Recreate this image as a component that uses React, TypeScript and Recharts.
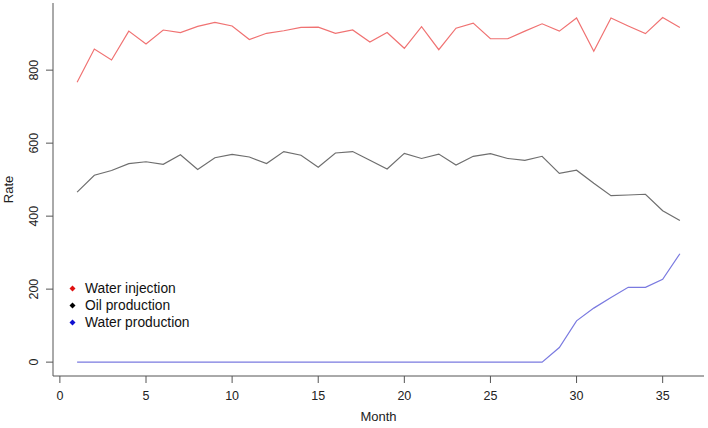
import React from "react";
import { LineChart, Line, XAxis, YAxis, Label } from "recharts";

const months = [
  1, 2, 3, 4, 5, 6, 7, 8, 9, 10, 11, 12, 13, 14, 15, 16, 17, 18, 19, 20, 21,
  22, 23, 24, 25, 26, 27, 28, 29, 30, 31, 32, 33, 34, 35, 36,
];
const waterInjection = [
  767, 858, 828, 907, 872, 910, 903, 920, 931, 921, 884, 901, 908, 917, 918,
  901, 910, 877, 903, 860, 919, 856, 915, 929, 886, 886, 907, 927, 907, 943,
  852, 943, 921, 900, 944, 917,
];
const oilProduction = [
  466, 512, 525, 544, 549, 542, 568, 528, 560, 569, 562, 544, 577, 567, 534,
  573, 577, 553, 529, 572, 558, 570, 540, 564, 571, 558, 553, 564, 517, 526,
  490, 456, 458, 460, 415, 388,
];
const waterProduction = [
  0, 0, 0, 0, 0, 0, 0, 0, 0, 0, 0, 0, 0, 0, 0, 0, 0, 0, 0, 0, 0, 0, 0, 0, 0,
  0, 0, 0, 40, 113, 148, 177, 205, 205, 227, 297,
];
const xTicks = [0, 5, 10, 15, 20, 25, 30, 35];
const yTicks = [0, 200, 400, 600, 800];
const seriesNames = ["Water injection", "Oil production", "Water production"];

const data = months.map((m, i) => ({
  month: m,
  inj: waterInjection[i],
  oil: oilProduction[i],
  wprod: waterProduction[i],
}));

const W = 708;
const H = 428;
const M_TOP = 3;
const M_RIGHT = 4;
const Y_W = 53;
const X_H = 52;
const PLOT_BOTTOM = H - X_H;
const FONT = "'Liberation Sans', Arial, Helvetica, sans-serif";
const AXIS_COLOR = "#555555";
const X_DOMAIN: [number, number] = [-0.4, 37.4];
const Y_DOMAIN: [number, number] = [-38, 984];

const YTick = (props: any) => {
  const { y, payload } = props;
  const bx = Y_W - 15;
  return (
    <text
      x={bx}
      y={y}
      transform={`rotate(-90 ${bx} ${y})`}
      textAnchor="middle"
      fontSize={12.5}
      fontFamily={FONT}
      fill="#222"
    >
      {payload.value}
    </text>
  );
};

const XTick = (props: any) => {
  const { x, payload } = props;
  return (
    <text
      x={x}
      y={PLOT_BOTTOM + 24}
      textAnchor="middle"
      fontSize={12.5}
      fontFamily={FONT}
      fill="#222"
    >
      {payload.value}
    </text>
  );
};

const legendColors = ["#e01010", "#000000", "#1010d0"];

const LegendBox = () => (
  <div
    style={{
      position: "absolute",
      left: 66,
      top: 280,
      fontFamily: FONT,
      fontSize: 13.8,
      color: "#111",
    }}
  >
    {seriesNames.map((n, i) => (
      <div
        key={n}
        style={{ display: "flex", alignItems: "center", height: 17, lineHeight: "17px", whiteSpace: "nowrap" }}
      >
        <svg width={13} height={17} style={{ flex: "none" }}>
          <polygon points="6.5,5.5 9.5,8.5 6.5,11.5 3.5,8.5" fill={legendColors[i]} />
        </svg>
        <span style={{ marginLeft: 6 }}>{n}</span>
      </div>
    ))}
  </div>
);

export default function App() {
  return (
    <div style={{ position: "absolute", left: 0, top: 0, width: W, height: H, background: "#fff" }}>
      <LineChart
        width={W}
        height={H}
        data={data}
        margin={{ top: M_TOP, right: M_RIGHT, left: 0, bottom: 0 }}
      >
        <XAxis
          dataKey="month"
          type="number"
          domain={X_DOMAIN}
          ticks={xTicks}
          allowDataOverflow
          height={X_H}
          tickSize={7}
          axisLine={{ stroke: AXIS_COLOR }}
          tickLine={{ stroke: AXIS_COLOR }}
          tick={<XTick />}
        >
          <Label
            content={() => (
              <text
                x={(Y_W + W - M_RIGHT) / 2}
                y={H - 7}
                textAnchor="middle"
                fontSize={13}
                fontFamily={FONT}
                fill="#222"
              >
                Month
              </text>
            )}
          />
        </XAxis>
        <XAxis
          xAxisId="top"
          orientation="top"
          dataKey="month"
          type="number"
          domain={X_DOMAIN}
          allowDataOverflow
          height={0}
          tick={false}
          tickLine={false}
          axisLine={{ stroke: AXIS_COLOR }}
        />
        <YAxis
          type="number"
          domain={Y_DOMAIN}
          ticks={yTicks}
          allowDataOverflow
          width={Y_W}
          tickSize={7}
          axisLine={{ stroke: AXIS_COLOR }}
          tickLine={{ stroke: AXIS_COLOR }}
          tick={<YTick />}
        >
          <Label
            content={() => {
              const cx = 13;
              const cy = (M_TOP + PLOT_BOTTOM) / 2;
              return (
                <text
                  x={cx}
                  y={cy}
                  transform={`rotate(-90 ${cx} ${cy})`}
                  textAnchor="middle"
                  fontSize={13}
                  fontFamily={FONT}
                  fill="#222"
                >
                  Rate
                </text>
              );
            }}
          />
        </YAxis>
        <YAxis
          yAxisId="right"
          orientation="right"
          type="number"
          domain={Y_DOMAIN}
          allowDataOverflow
          width={0}
          tick={false}
          tickLine={false}
          axisLine={{ stroke: AXIS_COLOR }}
        />
        <Line
          type="linear"
          dataKey="inj"
          name={seriesNames[0]}
          stroke="#f07272"
          strokeWidth={1.2}
          dot={false}
          isAnimationActive={false}
        />
        <Line
          type="linear"
          dataKey="oil"
          name={seriesNames[1]}
          stroke="#6e6e6e"
          strokeWidth={1.2}
          dot={false}
          isAnimationActive={false}
        />
        <Line
          type="linear"
          dataKey="wprod"
          name={seriesNames[2]}
          stroke="#7a7ae0"
          strokeWidth={1.2}
          dot={false}
          isAnimationActive={false}
        />
      </LineChart>
      <LegendBox />
    </div>
  );
}
